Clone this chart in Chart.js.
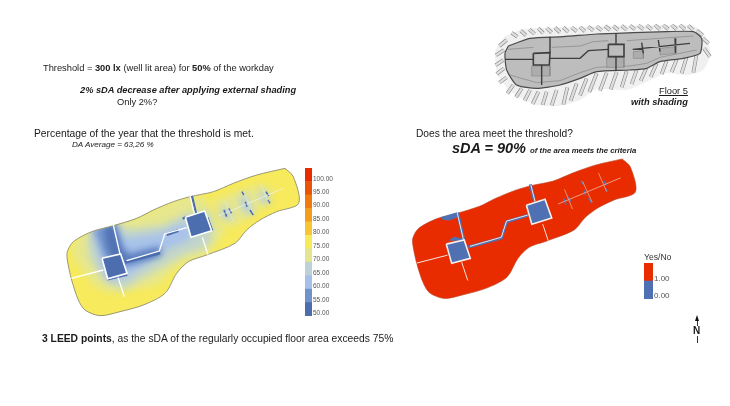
<!DOCTYPE html>
<html>
<head>
<meta charset="utf-8">
<script src="https://cdn.jsdelivr.net/npm/chart.js@4/dist/chart.umd.min.js"></script>
<style>
  html, body { margin: 0; padding: 0; background: #fff; width: 730px; height: 406px; overflow: hidden; }
  body { position: relative; font-family: "Liberation Sans", Arial, sans-serif; color: #1a1a1a; }
  canvas { position: absolute; }
  .soft { filter: blur(0.6px); }
  .t { position: absolute; white-space: nowrap; line-height: 1; filter: blur(0.3px); }
  .b { font-weight: bold; }
  .i { font-style: italic; }
  #north-stem { position: absolute; left: 696.5px; top: 319px; width: 1px; height: 24px; background: #333; }
  #north-head { position: absolute; left: 695px; top: 315px; width: 0; height: 0;
                border-left: 2px solid transparent; border-right: 2px solid transparent; border-bottom: 6px solid #111; }
</style>
</head>
<body>

<div class="t" style="left:43px;top:64px;font-size:9.3px">Threshold = <span class="b">300 lx</span> (well lit area) for <span class="b">50%</span> of the workday</div>
<div class="t b i" style="left:80px;top:86px;font-size:9.25px">2% sDA decrease after applying external shading</div>
<div class="t" style="left:117px;top:98px;font-size:9.3px">Only 2%?</div>
<div class="t" style="left:34px;top:129px;font-size:10.3px">Percentage of the year that the threshold is met.</div>
<div class="t i" style="left:72px;top:141px;font-size:8.1px">DA Average = 63,26 %</div>
<div class="t" style="left:416px;top:129px;font-size:10.2px">Does the area meet the threshold?</div>
<div class="t b i" style="left:452px;top:141px;font-size:14.5px">sDA = 90% <span style="font-size:7.8px">of the area meets the criteria</span></div>
<div class="t" style="left:42px;top:334px;font-size:10.3px"><span class="b">3 LEED points</span>, as the sDA of the regularly occupied floor area exceeds 75%</div>
<div class="t" style="left:659px;top:87px;font-size:9.3px;text-decoration:underline">Floor 5</div>
<div class="t b i" style="left:631px;top:98px;font-size:9.3px">with shading</div>
<div class="t" style="left:644px;top:253px;font-size:8.6px;color:#333">Yes/No</div>
<div id="north-stem"></div><div id="north-head"></div>
<div class="t b" style="left:693px;top:326px;font-size:10px;background:#fff">N</div>

<canvas id="heatMap" class="soft" width="340" height="170" style="left:30px;top:160px"></canvas>
<canvas id="heatBar" class="soft" width="48" height="170" style="left:305px;top:160px"></canvas>
<canvas id="yesNoMap" class="soft" width="327" height="161" style="left:377px;top:151px"></canvas>
<canvas id="yesNoBar" class="soft" width="48" height="60" style="left:644px;top:255px"></canvas>
<canvas id="floorPlan" class="soft" width="240" height="110" style="left:480px;top:10px"></canvas>

<script>
// ── Map data (floor-plan units, same plan for both result maps) ─────

const mapOutline = [[765,25],[790,50],[806,130],[740,155],[690,180],[650,210],[615,250],[530,285],[475,305],
    [440,340],[405,400],[340,435],[270,455],[210,467],[165,450],[145,420],[125,360],[112,300],[112,275],
    [130,245],[185,215],[250,197],[320,175],[370,150],[430,125],[480,110],[550,95],[610,70],[680,45]];

// DA bands, palest first
const band70 = [[150,225],[250,190],[330,165],[430,118],[480,103],[525,115],[555,170],[590,205],[555,255],
    [530,290],[475,305],[430,330],[385,372],[310,390],[245,400],[195,380],[165,340],[135,300],[125,265]];
const band70East = [[545,125],[620,95],[690,75],[735,90],[700,140],[650,175],[610,200],[570,190]];
const band65 = [[185,205],[250,190],[305,208],[400,195],[470,160],[540,155],[548,230],[530,262],[455,288],
    [400,320],[340,352],[282,388],[240,372],[205,340],[178,290],[172,235]];
const band60 = [[190,205],[250,190],[282,235],[390,220],[470,185],[490,235],[400,272],[340,318],[290,352],
    [232,362],[212,300],[200,258]];
const band55 = [[188,205],[250,190],[274,258],[300,280],[392,258],[395,285],[290,318],[226,296],[208,250]];
const band50 = [[222,200],[252,190],[278,276],[292,292],[384,268],[388,284],[290,310],[242,292],[228,250]];
const patchEast = [[[565,168],[590,135],[608,180]], [[628,125],[640,95],[672,160],[650,165]], [[690,125],[692,80],[725,135]]];

const coreWest = [[216,295],[272,282],[291,340],[233,356]];
const coreEast = [[466,172],[524,153],[545,212],[483,232]];

// white partition lines, each null splits a segment
const wallLines = [[250,195],[270,282],null,[124,355],[220,330],null,[264,352],[283,410],null,
    [480,108],[493,160],null,[517,232],[534,284],null,[290,302],[388,273],[404,222],[470,203]];
const eastLine = [[565,168],[760,85]];
const crossWalls = [[585,122],[610,184],null,[641,96],[671,162],null,[691,70],[716,128]];

const corridorStrip = [[285,307],[390,279],null,[410,224],[445,212]];
const sideStrips = [[486,108],[498,160],null,[532,172],[547,212],null,[232,358],[292,344],null,[458,176],[470,170]];
const eastMarks = [[582,150],[590,170],null,[596,145],[604,160],null,[636,95],[642,105],null,[646,125],[651,140],null,
    [660,150],[670,165],null,[708,95],[716,108],null,[713,120],[720,130]];

const sdaPatchNorth = [[198,210],[250,194],[252,210],[225,220],[205,218]];
const sdaPatchCore = [[222,284],[240,272],[270,278],[272,284]];
const sdaStrips = [[252,196],[270,280],null,[478,106],[492,160],null,[285,304],[388,276],[404,224],[470,204]];

// ── Legend data ─────────────────────────────────────────────────────

const bandTicks   = [50, 55, 60, 65, 70, 75, 80, 85, 90, 95, 100];
const bandEdges   = [49, 54, 59, 64, 69, 74, 79, 84, 89, 94, 99, 104];
const bandColours = ['#4c6eaf', '#7092cb', '#a5c0eb', '#bcd2d6', '#e3e58f', '#f8e95a', '#f7c433',
                     '#f39c1e', '#ee7a10', '#ea5408', '#e92c00'];
const yesNoTicks   = [0, 1];
const yesNoEdges   = [-0.17, 0.85, 1.87];
const yesNoColours = ['#4f71b3', '#e92c00'];

// ── Floor 5 plan (top right thumbnail) ──────────────────────────────

const floorOutline = [[85,108],[150,85],[250,80],[350,72],[460,68],[560,65],[640,65],[665,85],[660,130],[610,145],
    [540,155],[500,175],[450,180],[350,185],[300,205],[240,225],[170,235],[110,225],[80,180],[75,130]];
const finBand = [[75,78],[130,58],[250,52],[400,48],[560,45],[640,48],[672,70],[692,130],[670,180],[620,195],
    [560,190],[500,215],[440,240],[350,238],[300,270],[240,287],[170,285],[100,250],[55,200],[45,125]];
const roomBoxes = [[160,130],[210,128],[208,165],[160,165],[160,130],null,[385,103],[432,103],[432,140],[385,140],[385,103]];
const planWalls = [[75,148],[160,148],null,[210,80],[210,128],null,[210,145],[300,145],[325,122],[385,118],null,
    [408,70],[408,103],null,[408,140],[408,180],null,[185,165],[185,225],null,[458,118],[630,100],null,
    [485,98],[490,130],null,[535,90],[540,125],null,[585,85],[587,130]];
const roomShades = [[[155,168],[210,168],[210,198],[155,198]], [[380,142],[432,142],[432,172],[380,172]],
    [[460,125],[490,122],[490,145],[460,145]], [[540,115],[585,110],[585,130],[540,135]]];
const inlineBands = [[85,118],[160,112],null,[215,112],[300,108],[340,95],[385,92],null,[440,92],[640,78],null,
    [90,195],[170,218],[240,212],[300,188],[350,172],[450,168],[500,160],[540,142],[650,120]];
const shadingFins = [[80,90],[58,108],null,[72,120],[48,136],null,[70,150],[47,166],null,[72,175],[50,192],null,
    [80,202],[58,218],null,[100,225],[82,250],null,[125,235],[108,262],null,[150,240],[134,272],null,
    [175,245],[158,282],null,[200,245],[188,284],null,[230,240],[215,286],null,[262,232],[250,284],null,
    [290,220],[272,272],null,[320,205],[300,256],null,[350,190],[328,246],null,[380,188],[360,242],null,
    [410,186],[392,238],null,[440,184],[425,232],null,[470,180],[455,222],null,[500,172],[482,212],null,
    [530,160],[512,200],null,[560,152],[545,192],null,[590,148],[575,186],null,[620,140],[605,190],null,
    [650,132],[640,188],null,[672,115],[690,140],null,[668,85],[686,100],null,[650,62],[668,76],null,
    [95,68],[112,80],null,[122,62],[138,76],null,[148,58],[164,72],null,[175,55],[190,70],null,
    [200,54],[215,68],null,[225,53],[240,67],null,[250,52],[265,66],null,[275,52],[290,64],null,
    [300,51],[315,64],null,[325,50],[340,62],null,[350,49],[365,61],null,[375,48],[390,60],null,
    [400,48],[415,60],null,[425,47],[440,60],null,[450,47],[465,58],null,[475,46],[490,58],null,
    [500,46],[515,58],null,[525,45],[540,58],null,[550,45],[565,58],null,[575,45],[590,58],null,
    [600,45],[615,58],null,[625,47],[640,60]];

// ── Helpers ─────────────────────────────────────────────────────────

const toPoints = pts => pts.map(p => p ? { x: p[0], y: p[1] } : { x: null, y: null });

function area(pts, colour, edge, edgeWidth, curve) {
    return {
        data: toPoints(pts.concat([pts[0]])),
        showLine: true, pointRadius: 0, tension: curve || 0, clip: false,
        fill: 'shape',
        backgroundColor: colour,
        borderColor: edge || colour,
        borderWidth: edge ? (edgeWidth || 1) : 0,
    };
}

function path(pts, colour, width, curve) {
    return {
        data: toPoints(pts),
        showLine: true, pointRadius: 0, tension: curve || 0, clip: false,
        fill: false, spanGaps: false,
        borderColor: colour,
        borderWidth: width,
    };
}

// Blends the DA bands: layers after the base are blurred and clipped to the floor outline
const softBands = (outline, softCount, blur) => ({
    id: 'softBands',
    afterDatasetDraw(chart, args) {
        const last = chart.data.datasets.length - 1;
        const ctx = chart.ctx;
        if (args.index === last) {
            const { x, y } = chart.scales;
            ctx.save();
            ctx.beginPath();
            outline.forEach(p => ctx.lineTo(x.getPixelForValue(p[0]), y.getPixelForValue(p[1])));
            ctx.closePath();
            ctx.clip();
            ctx.filter = `blur(${blur}px)`;
        }
        if (args.index === last - softCount) {
            ctx.restore();
        }
    },
});

// first layer in the list ends up at the bottom (Chart.js paints dataset 0 last)
function drawPlan(id, xMax, yMax, layers, plugins) {
    new Chart(document.getElementById(id), {
        type: 'scatter',
        data: { datasets: layers.reverse() },
        plugins: plugins || [],
        options: {
            responsive: false,
            animation: false,
            layout: { padding: 0 },
            plugins: { legend: { display: false }, tooltip: { enabled: false } },
            scales: {
                x: { display: false, min: 0, max: xMax },
                y: { display: false, min: 0, max: yMax, reverse: true },
            },
        },
    });
}

function drawKey(id, edges, colours, ticks, fontSize, barWidth, padTop, padBottom) {
    new Chart(document.getElementById(id), {
        type: 'bar',
        data: {
            labels: ['key'],
            datasets: colours.map((c, i) => ({
                data: [[edges[i], edges[i + 1]]],
                backgroundColor: c,
                barPercentage: 1,
                categoryPercentage: 1,
                grouped: false,
            })),
        },
        options: {
            responsive: false,
            animation: false,
            layout: { padding: { top: padTop, bottom: padBottom, left: 0, right: 0 } },
            plugins: { legend: { display: false }, tooltip: { enabled: false } },
            scales: {
                x: { display: false },
                y: {
                    position: 'right',
                    min: edges[0],
                    max: edges[edges.length - 1],
                    grid: { display: false, drawTicks: false },
                    border: { display: false },
                    afterBuildTicks: scale => { scale.ticks = ticks.map(v => ({ value: v })); },
                    afterFit: scale => { scale.width = 48 - barWidth; },
                    ticks: {
                        padding: 1,
                        color: '#555',
                        font: { family: 'Liberation Sans', size: fontSize },
                        autoSkip: false,
                        maxRotation: 0,
                        callback: v => Number(v).toFixed(2),
                    },
                },
            },
        },
    });
}

// ── Charts ──────────────────────────────────────────────────────────

drawPlan('heatMap', 1020, 510, [
    area(mapOutline, '#f7ea5c', null, 0, 0.3),
    area(band70, '#e6e78e'),
    area(band70East, '#e6e78e'),
    area(band65, '#c3d6ca'),
    area(patchEast[0], '#b4cde0'),
    area(patchEast[1], '#b4cde0'),
    area(patchEast[2], '#b4cde0'),
    area(band60, '#a8c2ea'),
    area(band55, '#7496cf'),
    area(band50, '#4f71b3'),
    path(mapOutline.concat([mapOutline[0]]), '#8f8f70', 0.9, 0.3),
    path(corridorStrip, '#4c6eaf', 3),
    path(sideStrips, '#4c6eaf', 2.2),
    path(eastMarks, '#4c6eaf', 1.6),
    path(wallLines, '#ffffff', 1.3),
    path(eastLine, '#eef3f0', 0.7),
    path(crossWalls, '#e8eef2', 0.5),
    area(coreWest, '#4c6eaf', '#ffffff', 1.6),
    area(coreEast, '#4c6eaf', '#ffffff', 1.6),
], [softBands(mapOutline, 9, 3.5)]);

drawKey('heatBar', bandEdges, bandColours, bandTicks, 6.5, 7, 8, 14);

drawPlan('yesNoMap', 1020, 510, [
    area(mapOutline, '#e92c00', '#b7442a', 0.6, 0.3),
    area(sdaPatchNorth, '#4f71b3'),
    area(sdaPatchCore, '#4f71b3'),
    path(sdaStrips, '#4f71b3', 3),
    path(eastMarks, '#4f71b3', 1.6),
    path(wallLines, '#f2e3dd', 1),
    path(eastLine, '#f3b8a4', 0.8),
    path(crossWalls, '#f0a98f', 0.8),
    area(coreWest, '#4f71b3', '#f4f0ee', 1.6),
    area(coreEast, '#4f71b3', '#f4f0ee', 1.6),
]);

drawKey('yesNoBar', yesNoEdges, yesNoColours, yesNoTicks, 8, 9, 8, 16);

drawPlan('floorPlan', 720, 330, [
    area(finBand, '#f0f0f0', null, 0, 0.2),
    path(shadingFins, '#808080', 3.6),
    path(shadingFins, '#dedede', 2.5),
    area(floorOutline, '#bdbdbd', '#4a4a4a', 1.2, 0.2),
    path(inlineBands, '#939393', 0.9),
    area(roomShades[0], '#adadad', '#7c7c7c', 0.5),
    area(roomShades[1], '#adadad', '#7c7c7c', 0.5),
    area(roomShades[2], '#adadad', '#7c7c7c', 0.5),
    area(roomShades[3], '#adadad', '#7c7c7c', 0.5),
    path(planWalls, '#3e3e3e', 1.4),
    path(roomBoxes, '#3e3e3e', 1.6),
]);
</script>
</body>
</html>
